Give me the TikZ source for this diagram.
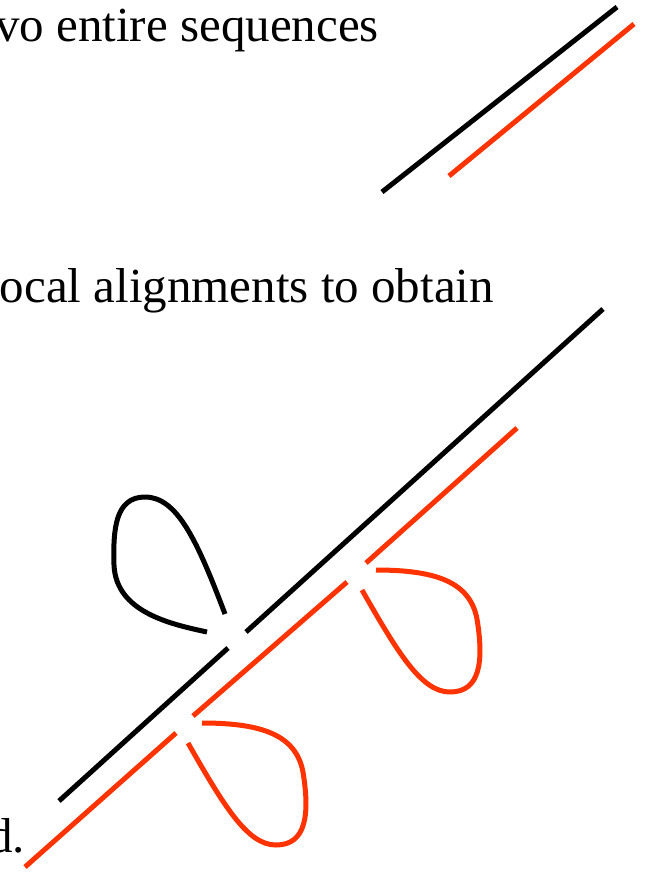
\documentclass[tikz,border=0pt]{standalone}
\usepackage{fontspec}
\setmainfont{Liberation Serif}
\definecolor{seqred}{HTML}{FF3300}
\begin{document}
\begin{tikzpicture}[x=1pt,y=-1pt,
  seq/.style={line width=5pt},
  blk/.style={seq,draw=black},
  rd/.style={seq,draw=seqred},
  lbl/.style={anchor=base east,inner sep=0pt,font=\fontsize{49}{58}\selectfont}]
\useasboundingbox (0,0) rectangle (651,872);
% texts
\node[lbl] (t1) at (379,42) {vo entire sequences};
\node[lbl] (t2) at (494,302) {ocal alignments to obtain};
\node[lbl] (t3) at (25,852) {d.};
% top pair
\draw[blk] (382,192) -- (617,7);
\draw[rd] (449,176) -- (634,24);
% bottom black sequence
\draw[blk] (59,801) -- (228,648);
\draw[blk] (246,632) -- (603,309);
% black loop
\draw[blk] (225,614) .. controls (197,540) and (177,497) .. (145,497)
  .. controls (115,497) and (113,530) .. (114,565)
  .. controls (116,612) and (170,624) .. (207,632);
% bottom red sequence
\draw[rd] (25,867) -- (176,733);
\draw[rd] (193,716) -- (347,582);
\draw[rd] (366,563) -- (517,428);
% red loops
\foreach \dx/\dy in {0/0,174/-153}{
\begin{scope}[shift={(\dx,\dy)}]
\draw[rd] (202,723) .. controls (262,723) and (296,735) .. (303,772)
  .. controls (310,815) and (306,845) .. (276,845)
  .. controls (248,845) and (225,808) .. (188,743);
\end{scope}}
\end{tikzpicture}
\end{document}
